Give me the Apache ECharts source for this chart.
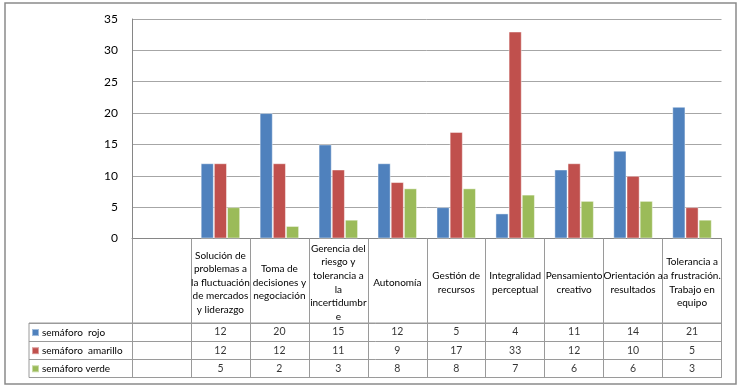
<!DOCTYPE html>
<html><head><meta charset="utf-8">
<script src="https://cdn.jsdelivr.net/npm/echarts@6/dist/echarts.min.js"></script>
<style>html,body{margin:0;padding:0;background:#fff}#c{width:743px;height:389px}</style>
</head><body><div id="c"></div>
<script>
const categories = ['', 'Solución de\nproblemas a\nla fluctuación\nde mercados\ny liderazgo', 'Toma de\ndecisiones y\nnegociación', 'Gerencia del\nriesgo y\ntolerancia a\nla\nincertidumbr\ne', 'Autonomía', 'Gestión de\nrecursos', 'Integralidad\nperceptual', 'Pensamiento\ncreativo', 'Orientación a\nresultados', 'Tolerancia a\na frustración.\nTrabajo en\nequipo'];
const seriesNames = ['semáforo  rojo', 'semáforo  amarillo', 'semáforo verde'];
const rojo =     [null, 12, 20, 15, 12, 5, 4, 11, 14, 21];
const amarillo = [null, 12, 12, 11, 9, 17, 33, 12, 10, 5];
const verde =    [null, 5, 2, 3, 8, 8, 7, 6, 6, 3];
const colors = ['#4f81bd', '#c0504d', '#9bbb59'];
const yTicks = {min: 0, max: 35, interval: 5};

const font = 'Lato, "Open Sans", sans-serif';
const lineCol = '#9a9a9a';
const allVals = [rojo, amarillo, verde];

const tableData = [];
allVals.forEach((arr, s) => arr.forEach((v, i) => { if (v !== null) tableData.push([i, s, v]); }));

const chart = echarts.init(document.getElementById('c'));
chart.setOption({
  animation: false,
  textStyle: {fontFamily: font},
  graphic: [{type: 'rect', shape: {x: 5, y: 3, width: 731, height: 381}, style: {fill: 'none', stroke: '#8a8a8a', lineWidth: 1.5}, silent: true}],
  legend: {
    data: seriesNames, orient: 'vertical', left: 31, top: 323.5, padding: 0, itemGap: 0,
    itemWidth: 7, itemHeight: 7, icon: 'rect',
    textStyle: {fontFamily: font, fontSize: 10, color: '#000', lineHeight: 18.1, padding: [0, 0, 0, -2]}
  },
  grid: [
    {left: 132, right: 21.5, top: 19, bottom: 150.5},
    {left: 29, right: 21.5, top: 323, height: 54.5, show: true, borderColor: lineCol, borderWidth: 1},
    {left: 132, right: 21.5, top: 323, height: 54.5}
  ],
  xAxis: [
    {type: 'category', gridIndex: 0, data: categories,
     axisLine: {lineStyle: {color: '#868686'}},
     axisTick: {show: true, interval: 0, length: 139, lineStyle: {color: lineCol}},
     axisLabel: {interval: 0, hideOverlap: false, margin: 44, verticalAlign: 'middle', align: 'center',
       fontFamily: font, fontSize: 10, lineHeight: 13.6, color: '#000'}},
    {type: 'value', gridIndex: 1, show: false, min: 0, max: 1},
    {type: 'category', gridIndex: 2, data: categories, show: false}
  ],
  yAxis: [
    {type: 'value', gridIndex: 0, min: yTicks.min, max: yTicks.max, interval: yTicks.interval,
     axisLine: {show: true, lineStyle: {color: '#868686'}}, axisTick: {show: false},
     splitLine: {lineStyle: {color: '#a6a6a6'}},
     axisLabel: {margin: 14, fontFamily: font, fontSize: 12, color: '#000'}},
    {type: 'category', gridIndex: 1, data: seriesNames, inverse: true, axisLine: {show: false}, axisTick: {show: false}, axisLabel: {show: false},
     splitLine: {show: true, interval: 0, lineStyle: {color: lineCol}}},
    {type: 'category', gridIndex: 2, data: seriesNames, inverse: true, show: false}
  ],
  series: [
    {name: seriesNames[0], type: 'bar', data: rojo, barGap: '0%', barCategoryGap: '33%', itemStyle: {color: colors[0], borderColor: 'rgba(255,255,255,0.45)', borderWidth: 1}},
    {name: seriesNames[1], type: 'bar', data: amarillo, barGap: '0%', barCategoryGap: '33%', itemStyle: {color: colors[1], borderColor: 'rgba(255,255,255,0.45)', borderWidth: 1}},
    {name: seriesNames[2], type: 'bar', data: verde, barGap: '0%', barCategoryGap: '33%', itemStyle: {color: colors[2], borderColor: 'rgba(255,255,255,0.45)', borderWidth: 1}},
    {name: 'tabla', type: 'scatter', xAxisIndex: 2, yAxisIndex: 2, data: tableData, symbolSize: 0, silent: true,
     label: {show: true, position: 'inside', formatter: p => String(p.value[2]), fontFamily: font, fontSize: 10.5, color: '#000'}}
  ]
});
</script></body></html>
